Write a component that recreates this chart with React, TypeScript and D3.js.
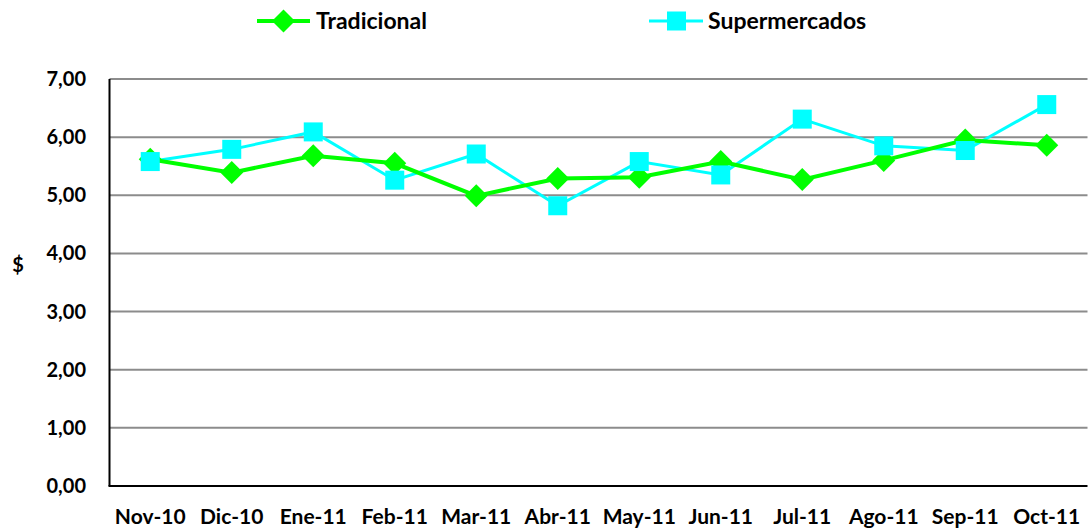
import React from "react";
import * as d3 from "d3";

const categories = ["Nov-10","Dic-10","Ene-11","Feb-11","Mar-11","Abr-11","May-11","Jun-11","Jul-11","Ago-11","Sep-11","Oct-11"];
const tradicional = [5.62,5.39,5.68,5.55,4.99,5.29,5.31,5.58,5.27,5.60,5.95,5.86];
const supermercados = [5.58,5.79,6.09,5.26,5.71,4.82,5.58,5.35,6.31,5.85,5.77,6.56];
const yTicks = [0,1,2,3,4,5,6,7];
const yLabel = "$";
const seriesNames = ["Tradicional","Supermercados"];

const W = 1088, H = 529;
const left = 109.5, right = 1087.5, top = 79, bottom = 486;
const FONT = "Lato, 'Open Sans', sans-serif";

export default function App() {
  const x = d3.scaleBand<string>().domain(categories).range([left, right]);
  const y = d3.scaleLinear().domain([0, 7]).range([bottom, top]);
  const cx = (c: string) => (x(c) as number) + x.bandwidth() / 2;
  const line = d3.line<number>().x((_, i) => cx(categories[i])).y(d => y(d));
  const fmt = (v: number) => v.toFixed(2).replace(".", ",");
  const diamond = (px: number, py: number, r: number) => `M${px},${py - r}L${px + r},${py}L${px},${py + r}L${px - r},${py}Z`;

  return (
    <svg width={W} height={H} style={{ position: "absolute", left: 0, top: 0, background: "#fff" }} fontFamily={FONT}>
      {yTicks.filter(t => t > 0).map(t => (
        <line key={t} x1={left} x2={right} y1={y(t)} y2={y(t)} stroke="#8c8c8c" strokeWidth={2} />
      ))}
      <line x1={left} x2={left} y1={top} y2={bottom} stroke="#000" strokeWidth={2} />
      <line x1={left - 1} x2={right} y1={bottom} y2={bottom} stroke="#000" strokeWidth={2} />
      {yTicks.map(t => (
        <text key={t} x={86} y={y(t)} dy="0.35em" textAnchor="end" fontSize={20} fontWeight="bold">{fmt(t)}</text>
      ))}
      <text x={18} y={265} dy="0.35em" textAnchor="middle" fontSize={20} fontWeight="bold">{yLabel}</text>
      {categories.map(c => (
        <text key={c} x={cx(c)} y={517} dy="0.35em" textAnchor="middle" fontSize={21} fontWeight="bold">{c}</text>
      ))}
      <path d={line(supermercados) || ""} fill="none" stroke="#00ffff" strokeWidth={3} />
      <path d={line(tradicional) || ""} fill="none" stroke="#00ff00" strokeWidth={4} />
      {tradicional.map((v, i) => (
        <path key={"t" + i} d={diamond(cx(categories[i]), y(v), 11.5)} fill="#00ff00" />
      ))}
      {supermercados.map((v, i) => (
        <rect key={"s" + i} x={cx(categories[i]) - 9.5} y={y(v) - 9.5} width={19} height={19} fill="#00ffff" />
      ))}
      {/* legend */}
      <line x1={257} x2={310} y1={21} y2={21} stroke="#00ff00" strokeWidth={4} />
      <path d={diamond(283.5, 21, 11.5)} fill="#00ff00" />
      <text x={316} y={21} dy="0.35em" fontSize={23} fontWeight="bold">{seriesNames[0]}</text>
      <line x1={649} x2={703} y1={21} y2={21} stroke="#00ffff" strokeWidth={3} />
      <rect x={667} y={11.5} width={19} height={19} fill="#00ffff" />
      <text x={708} y={21} dy="0.35em" fontSize={23} fontWeight="bold">{seriesNames[1]}</text>
    </svg>
  );
}
